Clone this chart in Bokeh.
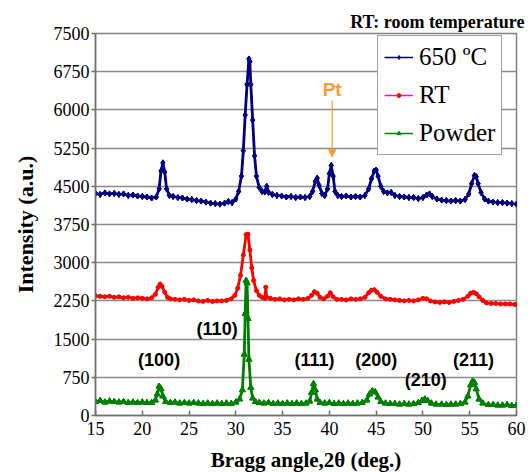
from bokeh.plotting import figure
from bokeh.models import (Range1d, FixedTicker, Legend, LegendItem, Label, Arrow,
                          NormalHead, Title)
from bokeh.embed import file_html
from bokeh.resources import INLINE

# ---------------- data ----------------
x_650 = [15.0, 15.5, 16.0, 16.5, 17.0, 17.5, 18.0, 18.5, 19.0, 19.5, 20.0, 20.5, 21.0, 21.5,
         21.8, 22.0, 22.2, 22.4, 22.6, 22.9, 23.3, 23.8, 24.3, 24.8, 25.3, 25.8, 26.3, 26.8,
         27.3, 27.8, 28.3, 28.8, 29.2, 29.6, 30.0, 30.3, 30.6, 30.8, 31.0, 31.2, 31.4, 31.5,
         31.6, 31.8, 32.0, 32.2, 32.5, 32.8, 33.1, 33.3, 33.5, 33.9, 34.4, 34.9, 35.4, 35.9,
         36.4, 36.9, 37.4, 37.9, 38.2, 38.5, 38.7, 38.9, 39.2, 39.5, 39.8, 40.0, 40.2, 40.4,
         40.6, 40.9, 41.3, 41.8, 42.3, 42.8, 43.3, 43.8, 44.2, 44.5, 44.8, 45.0, 45.2, 45.5,
         45.8, 46.2, 46.6, 47.0, 47.5, 48.0, 48.5, 49.0, 49.5, 50.0, 50.4, 50.7, 51.0, 51.5,
         52.0, 52.5, 53.0, 53.5, 54.0, 54.5, 54.9, 55.2, 55.5, 55.7, 55.9, 56.2, 56.6, 57.0,
         57.5, 58.0, 58.5, 59.0, 59.5, 60.0]
y_650 = [4360, 4340, 4370, 4350, 4360, 4340, 4350, 4320, 4330, 4310, 4300, 4290, 4270, 4290,
         4450, 4800, 4960, 4780, 4450, 4320, 4300, 4280, 4270, 4250, 4240, 4220, 4210, 4190,
         4170, 4160, 4150, 4170, 4200, 4180, 4250, 4400, 4700, 5200, 5900, 6500, 7000, 6950,
         6500, 5800, 5100, 4700, 4480, 4400, 4390, 4500, 4380, 4340, 4320, 4310, 4290, 4300,
         4280, 4290, 4280, 4300, 4400, 4600, 4660, 4520, 4360, 4320, 4450, 4750, 4910, 4700,
         4400, 4320, 4300, 4310, 4290, 4300, 4290, 4320, 4450, 4650, 4800, 4820, 4700, 4500,
         4400, 4370, 4380, 4320, 4300, 4290, 4280, 4280, 4260, 4280, 4330, 4350, 4300, 4250,
         4230, 4220, 4210, 4220, 4210, 4240, 4350, 4550, 4710, 4690, 4550, 4380, 4250, 4210,
         4190, 4180, 4180, 4170, 4160, 4150]

x_rt = [15.0, 15.5, 16.0, 16.5, 17.0, 17.5, 18.0, 18.5, 19.0, 19.5, 20.0, 20.5, 21.0, 21.4,
        21.7, 21.9, 22.1, 22.4, 22.7, 23.0, 23.5, 24.0, 24.5, 25.0, 25.5, 26.0, 26.5, 27.0,
        27.5, 28.0, 28.5, 29.0, 29.5, 29.9, 30.2, 30.5, 30.8, 31.1, 31.3, 31.5, 31.7, 31.9,
        32.2, 32.5, 32.8, 33.1, 33.2, 33.3, 33.7, 34.2, 34.7, 35.2, 35.7, 36.2, 36.7, 37.2,
        37.7, 38.1, 38.4, 38.7, 39.0, 39.4, 39.8, 40.1, 40.4, 40.8, 41.3, 41.8, 42.3, 42.8,
        43.3, 43.8, 44.2, 44.5, 44.8, 45.1, 45.5, 46.0, 46.5, 47.0, 47.5, 48.0, 48.5, 49.0,
        49.5, 50.0, 50.4, 50.8, 51.3, 51.8, 52.3, 52.8, 53.3, 53.8, 54.3, 54.8, 55.1, 55.4,
        55.7, 56.0, 56.4, 56.8, 57.3, 57.8, 58.3, 58.8, 59.3, 59.8, 60.0]
y_rt = [2350, 2340, 2330, 2340, 2320, 2330, 2310, 2320, 2300, 2310, 2300, 2290, 2310, 2380,
        2520, 2580, 2540, 2420, 2320, 2290, 2280, 2270, 2280, 2260, 2270, 2250, 2240, 2260,
        2240, 2250, 2250, 2260, 2290, 2360, 2500, 2750, 3150, 3550, 3560, 3250, 2900, 2650,
        2450, 2360, 2320, 2300, 2520, 2320, 2300, 2280, 2290, 2270, 2280, 2270, 2290, 2280,
        2300, 2360, 2430, 2400, 2320, 2290, 2340, 2410, 2330, 2280, 2280, 2270, 2290, 2280,
        2290, 2320, 2410, 2460, 2470, 2420, 2340, 2290, 2280, 2270, 2260, 2250, 2260, 2250,
        2270, 2300, 2290, 2250, 2230, 2220, 2230, 2220, 2240, 2260, 2280, 2340, 2400, 2420,
        2390, 2330, 2260, 2210, 2200, 2200, 2190, 2190, 2190, 2180, 2180]

x_powder = [15.0, 15.5, 16.0, 16.5, 17.0, 17.5, 18.0, 18.5, 19.0, 19.5, 20.0, 20.5, 21.0, 21.4,
            21.6, 21.8, 22.0, 22.2, 22.5, 23.0, 23.5, 24.0, 24.5, 25.0, 25.5, 26.0, 26.5, 27.0,
            27.5, 28.0, 28.5, 29.0, 29.5, 30.0, 30.4, 30.7, 30.9, 31.0, 31.1, 31.2, 31.3, 31.4,
            31.6, 31.8, 32.1, 32.5, 33.0, 33.5, 34.0, 34.5, 35.0, 35.5, 36.0, 36.5, 37.0, 37.5,
            37.9, 38.1, 38.3, 38.5, 38.7, 39.0, 39.5, 40.0, 40.5, 41.0, 41.5, 42.0, 42.5, 43.0,
            43.5, 44.0, 44.3, 44.6, 44.9, 45.2, 45.5, 46.0, 46.5, 47.0, 47.5, 48.0, 48.5, 49.0,
            49.5, 49.9, 50.2, 50.5, 50.9, 51.4, 52.0, 52.5, 53.0, 53.5, 54.0, 54.5, 54.8, 55.1,
            55.3, 55.5, 55.7, 56.0, 56.4, 57.0, 57.5, 58.0, 58.5, 59.0, 59.5, 60.0]
y_powder = [270, 290, 260, 280, 270, 260, 270, 250, 260, 250, 260, 250, 250, 300,
            420, 570, 520, 380, 270, 250, 260, 240, 250, 240, 250, 240, 230, 240,
            230, 240, 230, 240, 230, 260, 320, 500, 1200, 2000, 2650, 2600, 1900, 1100,
            550, 340, 270, 250, 240, 250, 230, 240, 230, 240, 230, 240, 230, 240,
            280, 450, 620, 500, 320, 250, 240, 250, 230, 240, 230, 240, 230, 240,
            250, 300, 420, 480, 460, 360, 270, 240, 230, 230, 220, 230, 220, 230,
            250, 290, 320, 290, 240, 220, 220, 210, 220, 220, 230, 260, 380, 600,
            670, 650, 520, 320, 240, 210, 210, 200, 200, 210, 190, 200]

series_names = ["650 \u00baC", "RT", "Powder"]
x_ticks = [15, 20, 25, 30, 35, 40, 45, 50, 55, 60]
y_ticks = [0, 750, 1500, 2250, 3000, 3750, 4500, 5250, 6000, 6750, 7500]

peak_labels = ["(100)", "(110)", "(111)", "(200)", "(210)", "(211)"]
peak_label_x = [21.8, 28.0, 38.4, 45.0, 50.3, 55.4]
peak_label_y = [1080, 1700, 1080, 1090, 700, 1090]

# ---------------- figure ----------------
p = figure(frame_width=421, frame_height=382, output_backend="svg", toolbar_location=None,
           x_range=Range1d(15, 60), y_range=Range1d(0, 7500),
           min_border_left=95, min_border_right=15, min_border_top=33, min_border_bottom=57)
p.background_fill_color = "white"
p.border_fill_color = "white"
p.outline_line_color = "#808080"
p.outline_line_width = 1.5

p.xgrid.grid_line_color = None
p.ygrid.grid_line_color = "#8a8a8a"
p.ygrid.grid_line_width = 1.5

xa = p.xaxis[0]
ya = p.yaxis[0]
xa.ticker = FixedTicker(ticks=x_ticks)
ya.ticker = FixedTicker(ticks=y_ticks)
for ax in (xa, ya):
    ax.major_label_text_font = "Liberation Serif"
    ax.major_label_text_font_size = "18px"
    ax.major_label_text_color = "black"
    ax.axis_line_color = "#707070"
    ax.axis_line_width = 1.5
    ax.major_tick_line_color = "#707070"
    ax.major_tick_line_width = 1.5
    ax.minor_tick_line_color = None
    ax.axis_label_text_font = "Liberation Serif"
    ax.axis_label_text_font_style = "bold"
    ax.axis_label_text_color = "black"

xa.major_tick_in = 5
xa.major_tick_out = 0
xa.major_label_standoff = 6
xa.axis_label = "Bragg angle,2\u03b8 (deg.)"
xa.axis_label_text_font_size = "21px"
xa.axis_label_standoff = 10

ya.major_tick_in = 0
ya.major_tick_out = 4
ya.major_label_standoff = 2
ya.axis_label = "Intensity (a.u.)"
ya.axis_label_text_font_size = "22px"
ya.axis_label_standoff = 13

navy = "#000080"
red = "#FF0000"
magenta = "#FF00FF"
green = "#008000"

# legend renderers (thin lines, drawn first and covered by the series marks)
lb = p.line(x_650, y_650, line_color=navy, line_width=1.5)
mb = p.scatter(x_650, y_650, marker="diamond", size=6, fill_color=navy, line_color=navy)
lr = p.line(x_rt, y_rt, line_color=magenta, line_width=1.5)
mr = p.scatter(x_rt, y_rt, marker="circle", size=3, fill_color=red, line_color=red)
lg = p.line(x_powder, y_powder, line_color=green, line_width=1.5)
mg = p.scatter(x_powder, y_powder, marker="triangle", size=6, fill_color=green, line_color=green)

# series
p.line(x_650, y_650, line_color=navy, line_width=2.8)
p.scatter(x_650, y_650, marker="diamond", size=6, fill_color=navy, line_color=navy)
p.line(x_rt, y_rt, line_color=red, line_width=2.8)
p.scatter(x_rt, y_rt, marker="circle", size=4, fill_color=red, line_color=red)
p.line(x_powder, y_powder, line_color=green, line_width=2.8)
p.scatter(x_powder, y_powder, marker="triangle", size=6, fill_color=green, line_color=green)

legend = Legend(items=[LegendItem(label=series_names[0], renderers=[lb, mb]),
                       LegendItem(label=series_names[1], renderers=[lr, mr]),
                       LegendItem(label=series_names[2], renderers=[lg, mg])],
                location=(282, 260))
legend.label_text_font = "Liberation Serif"
legend.label_text_font_size = "25px"
legend.label_text_color = "black"
legend.glyph_width = 29
legend.glyph_height = 10
legend.label_height = 30
legend.label_standoff = 6
legend.spacing = 8
legend.padding = 6
legend.margin = 0
legend.border_line_color = "#404040"
legend.border_line_width = 1.2
legend.background_fill_color = "white"
legend.background_fill_alpha = 1.0
p.add_layout(legend)

# peak labels
for t, xx, yy in zip(peak_labels, peak_label_x, peak_label_y):
    p.add_layout(Label(x=xx, y=yy, text=t, text_align="center", text_baseline="middle",
                       text_font="Liberation Sans", text_font_style="bold",
                       text_font_size="18px", text_color="black"))

# Pt annotation
orange = "#FF9933"
p.add_layout(Label(x=40.3, y=6400, text="Pt", text_align="center", text_baseline="middle",
                   text_font="Liberation Sans", text_font_style="bold",
                   text_font_size="19px", text_color=orange))
p.add_layout(Arrow(end=NormalHead(size=7, fill_color=orange, line_color=orange),
                   x_start=40.3, y_start=6180, x_end=40.3, y_end=5080,
                   line_color=orange, line_width=1.2))

# note above plot
p.add_layout(Title(text="RT: room temperature", align="right", text_font="Liberation Serif",
                   text_font_style="bold", text_font_size="18px", text_color="black",
                   standoff=4, offset=-8), "above")

open("out.html", "w").write(file_html(p, INLINE))
